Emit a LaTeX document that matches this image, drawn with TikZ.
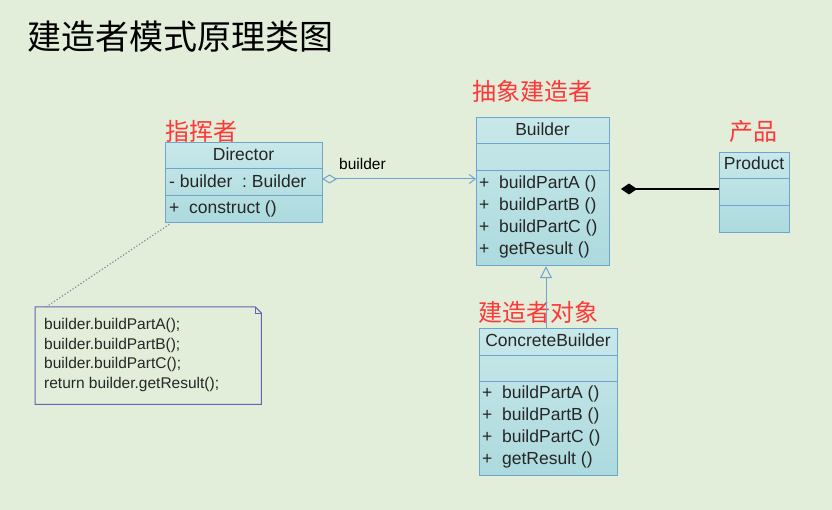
\documentclass[tikz,border=0pt]{standalone}
\usepackage{fontspec}
\setmainfont{Liberation Sans}
\newfontfamily\cjk{Noto Sans CJK SC}
\usetikzlibrary{arrows.meta,calc}
\definecolor{bgc}{RGB}{226,238,218}
\definecolor{boxfill}{RGB}{172,218,222}
\definecolor{boxtop}{RGB}{200,232,234}
\definecolor{boxline}{RGB}{110,165,205}
\definecolor{redlab}{RGB}{255,55,55}
\definecolor{notec}{RGB}{100,100,180}
\definecolor{dotc}{RGB}{130,140,160}
\begin{document}
\begin{tikzpicture}[x=1pt,y=-1pt,
  cls/.style={draw=boxline,line width=1.2pt,top color=boxtop,bottom color=boxfill,inner sep=0pt,anchor=north west},
  divl/.style={draw=boxline,line width=1pt},
  txt/.style={font=\fontsize{17.5}{19}\selectfont,inner sep=0pt,text height=12.5pt,text depth=3.8pt,text=black!85},
  notetxt/.style={font=\fontsize{15.5}{17}\selectfont,inner sep=0pt,anchor=west,text height=11pt,text depth=3pt,text=black!85},
  redl/.style={font=\cjk\fontsize{24}{26}\selectfont,text=redlab,inner sep=0pt},
  link/.style={draw=boxline,line width=1pt}
]
\fill[bgc] (0,0) rectangle (832,510);
\useasboundingbox (0,0) rectangle (832,510);

% title
\node[font=\cjk\fontsize{34}{36}\selectfont,anchor=west,inner sep=0pt] (title) at (27,37) {建造者模式原理类图};

% Director
\node[cls,minimum width=157pt,minimum height=80pt] (dir) at (165,142) {};
\draw[divl] (165,169) -- (322,169);
\draw[divl] (165,196) -- (322,196);
\node[txt] (dirn) at (243.5,156) {Director};
\node[txt,anchor=west] (dira) at (169,183) {-\ builder\ \ :\ Builder};
\node[txt,anchor=west] (diro) at (169,209.5) {+\ \ construct ()};
\node[redl,anchor=west] (dirl) at (165,131) {指挥者};

% Builder
\node[cls,minimum width=133pt,minimum height=148pt] (bld) at (476,117) {};
\draw[divl] (476,144) -- (609,144);
\draw[divl] (476,171) -- (609,171);
\node[txt] (bldn) at (542.5,131) {Builder};
\node[txt,anchor=west] (b1) at (479,184) {+\ \ buildPartA ()};
\node[txt,anchor=west] (b2) at (479,206) {+\ \ buildPartB ()};
\node[txt,anchor=west] (b3) at (479,228) {+\ \ buildPartC ()};
\node[txt,anchor=west] (b4) at (479,250) {+\ \ getResult ()};
\node[redl,anchor=west] (bldl) at (472,91) {抽象建造者};

% Product
\node[cls,minimum width=70pt,minimum height=80pt] (prod) at (719,152) {};
\draw[divl] (719,179) -- (789,179);
\draw[divl] (719,206) -- (789,206);
\node[txt] (prodn) at (754,165.5) {Product};
\node[redl,anchor=west] (prodl) at (729,131) {产品};

% ConcreteBuilder
\node[cls,minimum width=138pt,minimum height=147pt] (cb) at (479,328) {};
\draw[divl] (479,355) -- (617,355);
\draw[divl] (479,381) -- (617,381);
\node[txt] (cbn) at (548,342) {ConcreteBuilder};
\node[txt,anchor=west] (c1) at (482,394) {+\ \ buildPartA ()};
\node[txt,anchor=west] (c2) at (482,416) {+\ \ buildPartB ()};
\node[txt,anchor=west] (c3) at (482,438) {+\ \ buildPartC ()};
\node[txt,anchor=west] (c4) at (482,460.5) {+\ \ getResult ()};
\node[redl,anchor=west] (cbl) at (478,312) {建造者对象};

% Note
\node[minimum width=226pt,minimum height=97pt,inner sep=0pt,anchor=north west] (note) at (35,307) {};
\draw[notec,line width=1pt] (note.north west) -- ($(note.north east)+(-6,0)$) -- ($(note.north east)+(0,6)$) -- (note.south east) -- (note.south west) -- cycle;
\draw[notec,line width=0.8pt] ($(note.north east)+(-6,0)$) -- ($(note.north east)+(-6,6)$) -- ($(note.north east)+(0,6)$);
\node[notetxt] (n1) at (44,326) {builder.buildPartA();};
\node[notetxt] (n2) at (44,345) {builder.buildPartB();};
\node[notetxt] (n3) at (44,364) {builder.buildPartC();};
\node[notetxt] (n4) at (44,384) {return builder.getResult();};
\draw[dotc,dotted,line width=1.2pt] ($(note.north west)+(11,0)$) -- ($(dir.south west)+(6,0)$);

% aggregation Director -> Builder
\coordinate (agg) at (322,179);
\draw[link,{Diamond[open,length=15pt,width=9pt]}-{Straight Barb[length=6pt,width=9pt]}] (agg) -- (bld.west |- agg);
\node[font=\fontsize{15.5}{17}\selectfont,inner sep=0pt,anchor=west] (aggl) at (339,164) {builder};

% composition Product -> Builder
\coordinate (cd) at (621,189);
\draw[black,line width=1.5pt,-{Diamond[length=16pt,width=11pt]}] (prod.west |- cd) -- (cd);

% inheritance ConcreteBuilder -> Builder
\coordinate (inh) at (546,328);
\draw[link,-{Triangle[open,length=12pt,width=12pt]}] (inh) -- (inh |- bld.south);
\end{tikzpicture}
\end{document}
